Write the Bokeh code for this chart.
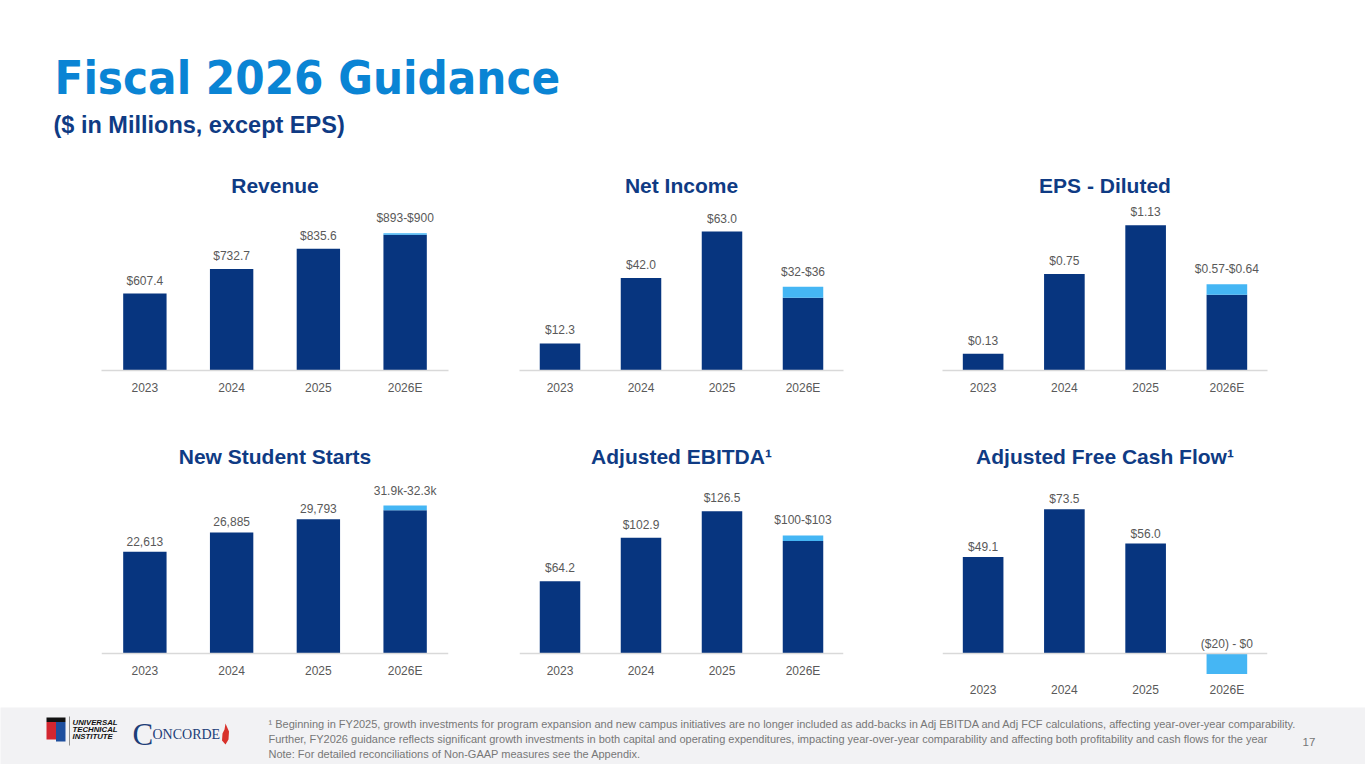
from bokeh.plotting import figure
from bokeh.models import Range1d, FactorRange, Span
from bokeh.layouts import column, row
from bokeh.embed import file_html
from bokeh.resources import INLINE
from bokeh.core.properties import value

# ---------------- data ----------------
years = ["2023", "2024", "2025", "2026E"]

revenue = [607.4, 732.7, 835.6]
revenue_2026 = [907.0, 915.0]            # guidance bar as drawn (low / high)
revenue_labels = ["$607.4", "$732.7", "$835.6", "$893-$900"]

net_income = [12.3, 42.0, 63.0]
net_income_2026 = [33.0, 38.0]
net_income_labels = ["$12.3", "$42.0", "$63.0", "$32-$36"]

eps = [0.13, 0.75, 1.13]
eps_2026 = [0.59, 0.67]
eps_labels = ["$0.13", "$0.75", "$1.13", "$0.57-$0.64"]

starts = [22613, 26885, 29793]
starts_2026 = [31800, 32850]
starts_labels = ["22,613", "26,885", "29,793", "31.9k-32.3k"]

ebitda = [64.2, 102.9, 126.5]
ebitda_2026 = [100.2, 105.0]
ebitda_labels = ["$64.2", "$102.9", "$126.5", "$100-$103"]

fcf = [49.1, 73.5, 56.0]
fcf_2026 = [-10.5, 0.0]                  # negative guidance bar as drawn
fcf_labels = ["$49.1", "$73.5", "$56.0", "($20) - $0"]

footnotes = [
    "\u00b9 Beginning in FY2025, growth investments for program expansion and new campus initiatives are no longer included as add-backs in Adj EBITDA and Adj FCF calculations, affecting year-over-year comparability.",
    "Further, FY2026 guidance reflects significant growth investments in both capital and operating expenditures, impacting year-over-year comparability and affecting both profitability and cash flows for the year",
    "Note: For detailed reconciliations of Non-GAAP measures see the Appendix.",
]

# ---------------- styles ----------------
DARK = "#07357F"
LIGHT = "#45B6F4"
NAVY = "#0F3B84"
BLUE = "#0A84D4"
GRAY = "#595959"
AXIS = "#D9D9D9"
FONT = "Liberation Sans"
W_PAGE = 1365


def chart(title, vals, rng, labels, width, bl, br, height, bt, bb,
          ystart, yend, title_standoff, cat_standoff, label_off=-6,
          range_off=-8, zero_line=False):
    p = figure(x_range=FactorRange(factors=years), y_range=Range1d(ystart, yend),
               width=width, height=height, min_border_left=bl, min_border_right=br,
               min_border_top=bt, min_border_bottom=bb, toolbar_location=None,
               output_backend="svg", title=title)
    p.title.text_font = FONT
    p.title.text_font_size = "21px"
    p.title.text_font_style = "bold"
    p.title.text_color = NAVY
    p.title.align = "center"
    p.title.standoff = title_standoff
    p.outline_line_color = None
    p.grid.visible = False
    p.yaxis.visible = False
    xa = p.xaxis[0]
    xa.axis_line_color = None if zero_line else AXIS
    xa.axis_line_width = 1.5
    xa.major_tick_line_color = None
    xa.minor_tick_line_color = None
    xa.major_tick_out = 0
    xa.major_tick_in = 0
    xa.major_label_standoff = cat_standoff
    xa.major_label_text_font = FONT
    xa.major_label_text_font_size = "12px"
    xa.major_label_text_color = GRAY
    base = max(ystart, 0)
    dark_x = years[:3]
    dark_top = list(vals)
    if rng[0] > 0:
        dark_x = years[:]
        dark_top = list(vals) + [rng[0]]
    p.vbar(x=dark_x, top=dark_top, bottom=base, width=0.5, color=DARK, line_color=None)
    p.vbar(x=[years[3]], top=[rng[1]], bottom=[rng[0]], width=0.5, color=LIGHT, line_color=None)
    if zero_line:
        p.add_layout(Span(location=0, dimension="width", line_color=AXIS, line_width=1.5))
    p.text(x=years[:3], y=list(vals), text=labels[:3], text_font=value(FONT),
           text_font_size=value("12px"), text_color=GRAY, text_align="center",
           text_baseline="bottom", y_offset=label_off)
    p.text(x=[years[3]], y=[rng[1]], text=[labels[3]], text_font=value(FONT),
           text_font_size=value("12px"), text_color=GRAY, text_align="center",
           text_baseline="bottom", y_offset=range_off)
    return p


# ---------------- header ----------------
HH = 160
hdr = figure(width=W_PAGE, height=HH, x_range=Range1d(0, W_PAGE), y_range=Range1d(HH, 0),
             min_border=0, toolbar_location=None, output_backend="svg")
hdr.axis.visible = False
hdr.grid.visible = False
hdr.outline_line_color = None
hdr.text(x=[54], y=[77], text=["Fiscal 2026 Guidance"],
         text_font=value("DejaVu Sans Condensed"), text_font_size=value("47px"),
         text_font_style="bold", text_color=BLUE, text_baseline="middle")
hdr.text(x=[53], y=[124], text=["($ in Millions, except EPS)"],
         text_font=value(FONT), text_font_size=value("23.5px"),
         text_font_style="bold", text_color=NAVY, text_baseline="middle")

# ---------------- rows ----------------
H1, BT1, BB1 = 248, 40, 38          # row 1: y 160..408, frame 200..370
FH1 = H1 - BT1 - BB1
H2, BT2, BB2 = 299, 72, 31          # row 2: y 408..707, frame 480..676
FH2 = H2 - BT2 - BB2
Z2 = 173                            # zero line 173 px below the frame top (y 653)

c1 = chart("Revenue", revenue, revenue_2026, revenue_labels, 483, 101, 35, H1, BT1, BB1,
           215, 215 + FH1 / 0.196, 8, 10)
c2 = chart("Net Income", net_income, net_income_2026, net_income_labels, 415, 36, 55, H1, BT1, BB1,
           0, FH1 / 2.205, 8, 10)
c3 = chart("EPS - Diluted", eps, eps_2026, eps_labels, 467, 44, 98, H1, BT1, BB1,
           0, FH1 / 128.6, 8, 10)


def r2(slope):
    return -(FH2 - Z2) / slope, Z2 / slope


s4, e4 = r2(0.004505)
c4 = chart("New Student Starts", starts, starts_2026, starts_labels, 483, 101, 35, H2, BT2, BB2,
           s4, e4, 26, -13, zero_line=True)
s5, e5 = r2(1.124)
c5 = chart("Adjusted EBITDA\u00b9", ebitda, ebitda_2026, ebitda_labels, 415, 36, 55, H2, BT2, BB2,
           s5, e5, 26, -13, zero_line=True)
s6, e6 = r2(1.964)
c6 = chart("Adjusted Free Cash Flow\u00b9", fcf, fcf_2026, fcf_labels, 467, 44, 98, H2, BT2, BB2,
           s6, e6, 26, 6, label_off=-3, range_off=-3, zero_line=True)

# ---------------- footer ----------------
BG = "#F2F2F4"
FT, FB = 707, 764
ftr = figure(width=W_PAGE, height=FB - FT, x_range=Range1d(0, W_PAGE), y_range=Range1d(FB, FT),
             min_border=0, toolbar_location=None, output_backend="svg",
             background_fill_color=BG, border_fill_color=BG)
ftr.axis.visible = False
ftr.grid.visible = False
ftr.outline_line_color = None
# UTI emblem (simplified)
ftr.quad(left=[46], right=[65], top=[717], bottom=[721.5], color="#111111", line_color=None)
ftr.quad(left=[46], right=[55.5], top=[721.5], bottom=[739], color="#D32630", line_color=None)
ftr.quad(left=[55.5], right=[65], top=[721.5], bottom=[741], color="#1E4F9E", line_color=None)
ftr.segment(x0=[69], y0=[716], x1=[69], y1=[745], line_color="#777777", line_width=0.8)
ftr.text(x=[72, 72, 72], y=[721.7, 728.6, 735.5], text=["UNIVERSAL", "TECHNICAL", "INSTITUTE"],
         text_font=value(FONT), text_font_size=value("7.8px"), text_font_style="bold italic",
         text_color="#111111", text_baseline="middle")
# Concorde wordmark (simplified)
ftr.text(x=[132], y=[734], text=["C"], text_font=value("Liberation Serif"),
         text_font_size=value("31px"), text_color="#1D3E78", text_baseline="middle")
ftr.text(x=[152], y=[734], text=["ONCORDE"], text_font=value("Liberation Serif"),
         text_font_size=value("14px"), text_color="#1D3E78", text_baseline="middle")
ftr.patch(x=[225, 228.5, 228, 225, 221.5, 222, 224, 225],
          y=[723, 731, 739, 744, 740, 733, 729, 723], color="#D8322B", line_color=None)
ftr.text(x=[268, 268, 268], y=[723, 738.5, 753.5], text=footnotes,
         text_font=value(FONT), text_font_size=value("11px"), text_color="#777777",
         text_baseline="middle")
ftr.text(x=[1302], y=[741], text=["17"], text_font=value(FONT), text_font_size=value("11.5px"),
         text_color="#777777", text_baseline="middle")

layout = column(hdr, row(c1, c2, c3, spacing=0), row(c4, c5, c6, spacing=0), ftr, spacing=0)
open("out.html", "w").write(file_html(layout, INLINE))
